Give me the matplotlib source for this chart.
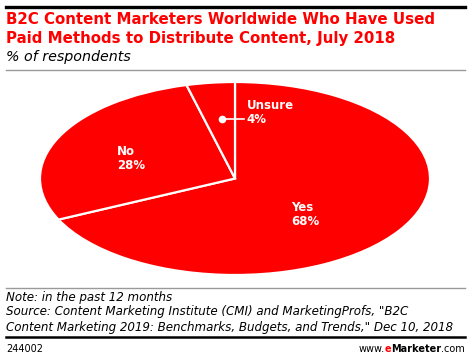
import matplotlib.pyplot as plt
from matplotlib.lines import Line2D

# data
labels = ['Yes', 'No', 'Unsure']
values = [68, 28, 4]
label_pos = [(0.287, -0.368), (-0.605, 0.212), (0.06, 0.684)]

red = '#ff0000'
W, H = 470, 359

fig = plt.figure(figsize=(4.7, 3.59), dpi=100)

def fx(px):
    return px / W

def fy(py):
    return 1 - py / H

# pie stretched into an ellipse
ax = fig.add_axes([fx(40), fy(275), fx(390), 193 / H])
ax.pie(values, colors=[red] * 3, startangle=90, counterclock=False,
       wedgeprops=dict(edgecolor='white', linewidth=1.6))
ax.set_aspect('auto')
ax.set_xlim(-1, 1)
ax.set_ylim(-1, 1)
ax.axis('off')

for lab, v, (x, y) in zip(labels, values, label_pos):
    ax.text(x, y, f'{lab}\n{v}%', color='white', fontsize=8.5, fontweight='bold',
            ha='left', va='center', linespacing=1.1)

# leader for the small slice
ax.plot([-0.067, 0.045], [0.617, 0.617], color='white', lw=1.2)
ax.plot([-0.067], [0.617], 'o', color='white', ms=4.5)

# title block
fig.add_artist(Line2D([fx(6), fx(465)], [fy(6.5), fy(6.5)], color='black', lw=2.4))
fig.text(fx(6), fy(20), 'B2C Content Marketers Worldwide Who Have Used',
         color=red, fontsize=10.8, fontweight='bold', va='center')
fig.text(fx(6), fy(38), 'Paid Methods to Distribute Content, July 2018',
         color=red, fontsize=10.8, fontweight='bold', va='center')
fig.text(fx(6), fy(57), '% of respondents', color='black', fontsize=10.3,
         style='italic', va='center')
fig.add_artist(Line2D([fx(6), fx(465)], [fy(70), fy(70)], color='#999999', lw=1))

# notes
fig.add_artist(Line2D([fx(6), fx(465)], [fy(288), fy(288)], color='#999999', lw=1))
notes = ['Note: in the past 12 months',
         'Source: Content Marketing Institute (CMI) and MarketingProfs, "B2C',
         'Content Marketing 2019: Benchmarks, Budgets, and Trends," Dec 10, 2018']
for i, line in enumerate(notes):
    fig.text(fx(6), fy(297 + 15 * i), line, fontsize=8.6, style='italic',
             va='center', color='black')
fig.add_artist(Line2D([fx(6), fx(465)], [fy(337), fy(337)], color='black', lw=1.8))
fig.text(fx(6), fy(349), '244002', fontsize=7, va='center', color='black')

# footer url, pieced together right to left
x_right = fx(465)
for part, weight, col in [('.com', 'normal', 'black'), ('Marketer', 'bold', 'black'),
                          ('e', 'bold', red), ('www.', 'normal', 'black')]:
    t = fig.text(x_right, fy(349), part, fontsize=7, fontweight=weight,
                 va='center', ha='right', color=col)
    fig.canvas.draw()
    x_right = t.get_window_extent().x0 / (fig.dpi * 4.7)

fig.savefig('out.png', dpi=100)
